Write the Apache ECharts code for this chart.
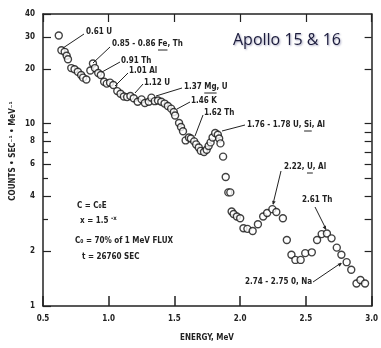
<!DOCTYPE html>
<html>
<head>
<meta charset="utf-8">
<script src="https://cdn.jsdelivr.net/npm/echarts@6/dist/echarts.min.js"></script>
<style>
html,body{margin:0;padding:0;background:#fff;}
#c{width:381px;height:348px;}
</style>
</head>
<body>
<div id="c"></div>
<script>
// ---- data ----
const energy = [0.62,0.64,0.665,0.68,0.69,0.715,0.74,0.765,0.79,0.805,0.83,
  0.86,0.88,0.895,0.92,0.94,0.965,0.985,1.01,1.035,1.065,1.09,1.115,1.14,1.165,1.19,1.22,1.25,1.275,1.305,
  1.325,1.35,1.375,1.40,1.425,1.45,1.475,1.495,1.505,1.535,1.55,1.565,1.585,1.61,1.625,1.65,1.665,1.685,1.70,1.725,
  1.745,1.76,1.775,1.79,1.81,1.83,1.84,1.85,1.87,1.89,1.91,1.925,1.935,1.95,1.975,2.00,2.025,2.055,2.095,2.135,
  2.175,2.205,2.245,2.275,2.325,2.355,2.39,2.42,2.46,2.495,2.545,2.585,2.62,2.66,2.695,2.735,2.77,2.81,2.845,2.885,2.915,2.95];
const counts = [30.5,25.3,24.8,23.6,22.6,20.2,19.9,19.3,18.5,17.9,17.5,
  19.6,21.4,20.2,19.0,18.5,17.0,16.6,16.8,16.3,15.1,14.6,14.1,14.0,14.2,13.8,13.2,13.6,13.0,13.2,
  13.9,13.3,13.4,13.2,12.9,12.5,12.1,11.6,11.1,10.1,9.6,9.1,8.1,8.4,8.3,8.0,7.7,7.4,7.1,7.0,
  7.2,7.55,7.9,8.4,8.9,8.7,8.3,7.8,6.6,5.1,4.2,4.2,3.3,3.2,3.1,3.03,2.67,2.65,2.58,2.81,
  3.1,3.24,3.4,3.28,3.03,2.3,1.91,1.79,1.79,1.95,1.97,2.3,2.48,2.5,2.35,2.09,1.91,1.74,1.58,1.33,1.39,1.33];
const yLabelValues = [1,2,4,6,8,10,20,30,40];
const yMinorTicks = [3,5,7,9];
const yRightTicks = [2,3,4,5,6,7,8,9,10,20,30];
const peakLabels = ['0.61 U','0.85 - 0.86 Fe, Th','0.91 Th','1.01 Al','1.12 U','1.37 Mg, U','1.46 K','1.62 Th',
  '1.76 - 1.78 U, Si, Al','2.22, U, Al','2.61 Th','2.74 - 2.75 0, Na'];
// underlined element in some labels: [label index, prefix before it, underlined word]
const underlined = [[1,'0.85 - 0.86 ','Fe'],[5,'1.37 ','Mg'],[8,'1.76 - 1.78 U, ','Si'],[9,'2.22, ','U']];
const noteLines = ['C = C\u2080E','x = 1.5 {s|-x}','C\u2080 = 70% of 1 MeV FLUX','t = 26760 SEC'];
const titleText = 'Apollo 15 & 16';
const xName = 'ENERGY, MeV';
const yName = 'COUNTS \u2022 SEC\u207B\u00B9 \u2022 MeV\u207B\u00B9';

const INK = '#222';
const FONT = '"Liberation Sans Narrow", "DejaVu Sans Condensed", Arial, sans-serif';

const chart = echarts.init(document.getElementById('c'), null, {renderer:'canvas'});

const mctx = document.createElement('canvas').getContext('2d');
mctx.font = 'bold 8px ' + FONT;
function tw(s){ return mctx.measureText(s).width; }

function T(x, y, text, opt) {
  return Object.assign({type:'text', x:x, y:y, z:10, style:{text:text, fill:INK, fontSize:8, fontWeight:'bold',
    fontFamily:FONT, align:'left', verticalAlign:'middle',
    rich:{s:{fontSize:6, fontWeight:'bold', fontFamily:FONT, fill:INK, padding:[0,0,5,0]}}}}, opt||{});
}
function L(x1,y1,x2,y2,w) {
  return {type:'line', z:10, shape:{x1:x1,y1:y1,x2:x2,y2:y2}, style:{stroke:INK, lineWidth:w||1}};
}
function A(x1,y1,x2,y2) { // arrow head at (x2,y2)
  const ang = Math.atan2(y2-y1, x2-x1), s = 4, w = 1.8;
  const bx = x2 - s*Math.cos(ang), by = y2 - s*Math.sin(ang);
  return {type:'polygon', z:10, shape:{points:[[x2,y2],[bx - w*Math.sin(ang), by + w*Math.cos(ang)],[bx + w*Math.sin(ang), by - w*Math.cos(ang)]]},
    style:{fill:INK}};
}

const labelPos = [[86,32],[112,44],[121,61],[129,71],[144,83],[184,87],[191,101],[204,113],[247,125],[284,167],[302,200],[245,282]];

const graphics = [
  L(63,48,84,34),
  L(93,63,110,47),
  L(102,72,120,62),
  L(115,86,128,73),
  L(135,93,143,84),
  L(156,96,182,88),
  L(177,109,190,102),
  L(195,136,203,115),
  L(222,131,245,125),
  L(281,171,273,204), A(281,171,273,205),
  L(315,207,326,229), A(315,207,326,230),
  L(313,282,341,263), A(313,282,342,263),
  T(77,206,noteLines[0]),
  T(80,221,noteLines[1]),
  T(75,241,noteLines[2]),
  T(82,257,noteLines[3]),
  {type:'text', x:233, y:40, z:10, style:{text:titleText, fill:'#1c1c3c', fontSize:16, fontFamily:'"Open Sans", "Liberation Sans", sans-serif',
    align:'left', verticalAlign:'middle', textShadowColor:'rgba(0,0,80,0.35)', textShadowBlur:2, textShadowOffsetX:1, textShadowOffsetY:1}},
  {type:'text', x:207, y:338, z:10, style:{text:xName, fill:INK, fontSize:8, fontWeight:'bold', fontFamily:FONT, align:'center', verticalAlign:'middle'}},
  {type:'text', x:13, y:151, rotation:Math.PI/2, z:10, style:{text:yName, fill:INK, fontSize:8, fontWeight:'bold', fontFamily:FONT, align:'center', verticalAlign:'middle'}}
];
peakLabels.forEach((s,i)=>graphics.push(T(labelPos[i][0], labelPos[i][1], s)));
underlined.forEach(u=>{
  const p = labelPos[u[0]];
  const x1 = p[0] + tw(u[1]), x2 = x1 + tw(u[2]);
  graphics.push(L(x1, p[1]+6, x2, p[1]+6, 1));
});

const axisLineStyle = {lineStyle:{color:INK, width:1.5}};
const labelStyle = {color:INK, fontSize:8, fontWeight:'bold', fontFamily:FONT};

chart.setOption({
  backgroundColor:'#fff',
  animation:false,
  grid:{left:43, top:14, right:6, bottom:42, show:false},
  xAxis:[
    {type:'value', min:0.5, max:3.0, interval:0.5, position:'bottom',
     axisLine:Object.assign({show:true}, axisLineStyle),
     axisTick:{show:true, inside:true, length:10, lineStyle:{color:INK, width:1.5}},
     axisLabel:Object.assign({margin:9, formatter:v=>v.toFixed(1)}, labelStyle),
     splitLine:{show:false}},
    {type:'value', min:0.5, max:3.0, interval:0.5, position:'top',
     axisLine:Object.assign({show:true}, axisLineStyle),
     axisTick:{show:true, inside:true, length:8, lineStyle:{color:INK, width:1.2}},
     axisLabel:{show:false}, splitLine:{show:false}}
  ],
  yAxis:[
    {type:'log', logBase:10, min:1, max:40, position:'left',
     axisLine:Object.assign({show:true}, axisLineStyle),
     axisTick:{show:true, inside:true, length:8, customValues:yLabelValues, lineStyle:{color:INK, width:1.2}},
     axisLabel:Object.assign({margin:8, customValues:yLabelValues}, labelStyle),
     splitLine:{show:false}, minorTick:{show:false}},
    {type:'log', logBase:10, min:1, max:40, position:'left',
     axisLine:{show:false},
     axisTick:{show:true, inside:true, length:5, customValues:yMinorTicks, lineStyle:{color:INK, width:1.2}},
     axisLabel:{show:false, customValues:yMinorTicks},
     splitLine:{show:false}},
    {type:'log', logBase:10, min:1, max:40, position:'right',
     axisLine:Object.assign({show:true}, axisLineStyle),
     axisTick:{show:true, inside:true, length:7, customValues:yRightTicks, lineStyle:{color:INK, width:1.2}},
     axisLabel:{show:false, customValues:yRightTicks},
     splitLine:{show:false}}
  ],
  series:[{
    type:'scatter', xAxisIndex:0, yAxisIndex:0,
    data: energy.map((e,i)=>[e, counts[i]]),
    symbol:'circle', symbolSize:7,
    itemStyle:{color:'#fff', borderColor:'#111', borderWidth:1.4},
    emphasis:{disabled:true}, z:5
  }],
  graphic: graphics
});
</script>
</body>
</html>
